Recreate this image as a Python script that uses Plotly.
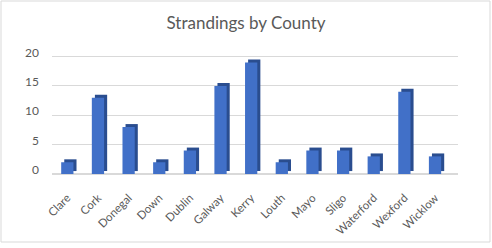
import plotly.graph_objects as go

counties = ["Clare", "Cork", "Donegal", "Down", "Dublin", "Galway", "Kerry",
            "Louth", "Mayo", "Sligo", "Waterford", "Wexford", "Wicklow"]
strandings = [2, 13, 8, 2, 4, 15, 19, 2, 4, 4, 3, 14, 3]
y_ticks = [0, 5, 10, 15, 20]

FRONT = "#4170c8"
SIDE = "#2a4d8f"
TEXT = "#595959"
FONT = "Lato"

depth_up = 0.5
fig = go.Figure()
# darker back/side part to give a 3D-like look
fig.add_trace(go.Bar(x=counties, y=strandings, base=depth_up, width=0.4, offset=-0.1,
                     marker=dict(color=SIDE, line=dict(width=0)), hoverinfo="skip",
                     showlegend=False))
fig.add_trace(go.Bar(x=counties, y=strandings, width=0.4, offset=-0.2,
                     marker=dict(color=FRONT, line=dict(width=0)), showlegend=False,
                     name="Strandings"))

fig.update_layout(
    width=492, height=248,
    margin=dict(l=52, r=34, t=53, b=74, autoexpand=False),
    paper_bgcolor="white", plot_bgcolor="white",
    barmode="overlay",
    title=dict(text="Strandings by County", x=0.5, xanchor="center",
               y=1 - 23 / 248, yanchor="middle",
               font=dict(family=FONT, size=17, color=TEXT)),
    font=dict(family=FONT, color=TEXT, size=11),
    xaxis=dict(tickangle=-45, showgrid=False, showline=False, ticks="",
               tickfont=dict(size=11.5, color=TEXT), ticklabelstandoff=14,
               range=[-0.5, 12.75], automargin=False),
    yaxis=dict(range=[0, 20.6], tickvals=y_ticks, showgrid=True, gridcolor="#d9d9d9",
               gridwidth=1, zeroline=True, zerolinecolor="#d9d9d9", showline=False,
               ticks="", tickfont=dict(size=12, color=TEXT), ticklabelstandoff=12,
               ticklabelshift=-4, automargin=False),
    shapes=[dict(type="rect", xref="paper", yref="paper",
                 x0=-51 / 406, x1=1 + 32 / 406, y0=-68 / 121, y1=1 + 52 / 121,
                 line=dict(color="#d9d9d9", width=1), layer="below")],
)

fig.write_html("out.html")
